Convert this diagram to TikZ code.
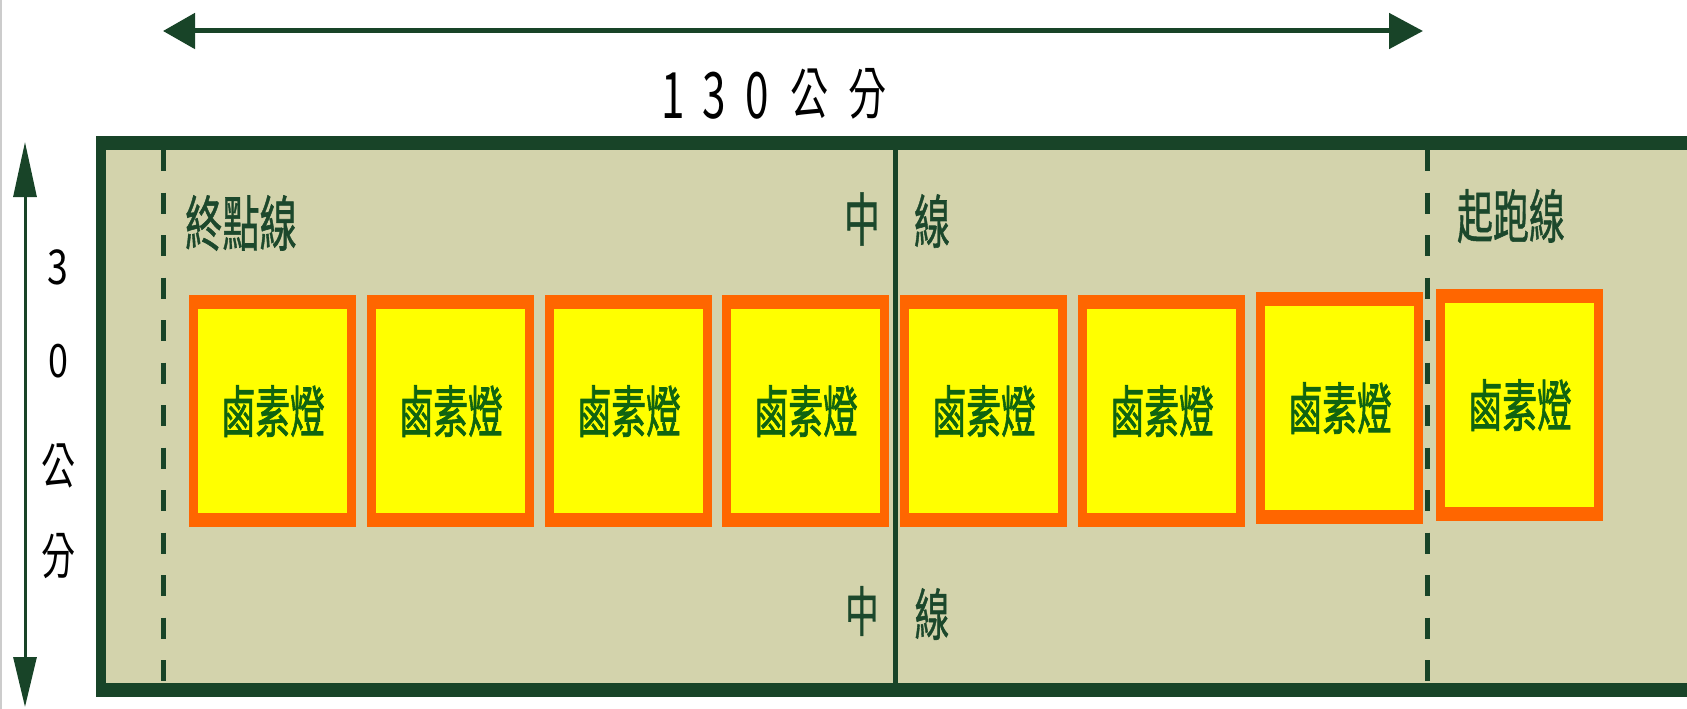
\documentclass[tikz,border=0pt]{standalone}
\usepackage{fontspec}
\newfontfamily\cjk{Noto Sans CJK TC}
\newfontfamily\cjkb[FakeBold=1.6]{Noto Sans CJK TC}
\newfontfamily\cjkm[FakeBold=1.0]{Noto Sans CJK TC}
\usetikzlibrary{arrows.meta}
\definecolor{border}{RGB}{24,68,40}
\definecolor{field}{RGB}{211,211,172}
\definecolor{lampedge}{RGB}{255,102,0}
\definecolor{lampfill}{RGB}{255,255,0}
\definecolor{lamptext}{RGB}{16,100,16}
\definecolor{labeltext}{RGB}{28,72,44}
\newcommand{\sqtext}[3]{\scalebox{#1}[1]{\fontsize{#2}{#2}\selectfont\cjk #3}}
\newcommand{\sqbold}[3]{\scalebox{#1}[1]{\fontsize{#2}{#2}\selectfont\cjkb #3}}
\newcommand{\sqmed}[3]{\scalebox{#1}[1]{\fontsize{#2}{#2}\selectfont\cjkm #3}}
\tikzset{
  txt/.style={inner sep=0pt, outer sep=0pt},
  lampouter/.style={fill=lampedge, draw=none, minimum width=167pt, minimum height=232pt, inner sep=0pt, anchor=north west},
  lampinner/.style={fill=lampfill, draw=none, minimum width=149pt, minimum height=204pt, inner sep=0pt, text=lamptext},
  dashline/.style={draw=border, line width=5pt, dash pattern=on 21pt off 21.5pt},
  midline/.style={draw=border, line width=4.5pt},
}
\begin{document}
\begin{tikzpicture}[x=1pt,y=-1pt]
\useasboundingbox (0,0) rectangle (1687,709);
\fill[white] (0,0) rectangle (1687,709);
\draw[black!20, line width=1.5pt] (0.75,0) -- (0.75,709);
% field
\fill[border] (96,136) rectangle (1687,697);
\fill[field] (106,150) rectangle (1687,683);
\coordinate (fT) at (163,150); \coordinate (fB) at (163,683);
\coordinate (sT) at (1427,150); \coordinate (sB) at (1427,683);
\coordinate (mT) at (895.5,150); \coordinate (mB) at (895.5,683);
\draw[dashline] (fT) -- (fB);
\draw[dashline] (sT) -- (sB);
\draw[midline] (mT) -- (mB);
% lamps
\foreach \i/\x/\y in {1/189/295, 2/367/295, 3/545/295, 4/722/295, 5/900/295, 6/1078/295, 7/1256/292, 8/1436/289}{
  \node[lampouter] (lamp\i) at (\x,\y) {};
  \node[lampinner] (bulb\i) at (lamp\i.center) {\sqbold{0.62}{56}{鹵素燈}};
}
% labels
\node[txt, text=labeltext] (finish) at (241,223) {\sqmed{0.62}{60}{終點線}};
\node[txt, text=labeltext] (start) at (1511,216) {\sqmed{0.62}{58}{起跑線}};
\node[txt, text=labeltext] (midTopA) at (862,219) {\sqmed{0.62}{58}{中}};
\node[txt, text=labeltext] (midTopB) at (932,221) {\sqmed{0.62}{58}{線}};
\node[txt, text=labeltext] (midBotA) at (862,611) {\sqmed{0.62}{54}{中}};
\node[txt, text=labeltext] (midBotB) at (932,614) {\sqmed{0.62}{56}{線}};
% dimension arrows
\coordinate (wL) at (163,31); \coordinate (wR) at (1423,31);
\draw[border, line width=5pt, {Triangle[length=32pt,width=35pt]}-{Triangle[length=34pt,width=35pt]}] (wL) -- (wR);
\coordinate (hT) at (25,142); \coordinate (hB) at (25,707);
\draw[border, line width=3pt, {Triangle[length=55pt,width=23pt]}-{Triangle[length=50pt,width=23pt]}] (hT) -- (hB);
\node[txt, text=black] (wlabel) at (773.5,94) {\makebox[41pt]{\sqtext{0.66}{64}{1}}\makebox[42pt]{\sqtext{0.66}{64}{3}}\makebox[43pt]{\sqtext{0.66}{64}{0}}\makebox[63pt]{\raisebox{4pt}{\sqtext{0.68}{56}{公}}}\makebox[53pt]{\raisebox{4pt}{\sqtext{0.68}{56}{分}}}};
\node[txt, text=black] (h3) at (58,267) {\sqtext{0.78}{48}{3}};
\node[txt, text=black] (h0) at (58,361) {\sqtext{0.78}{46}{0}};
\node[txt, text=black] (hgong) at (58,466) {\sqtext{0.68}{50}{公}};
\node[txt, text=black] (hfen) at (58,556) {\sqtext{0.68}{50}{分}};
\end{tikzpicture}
\end{document}
